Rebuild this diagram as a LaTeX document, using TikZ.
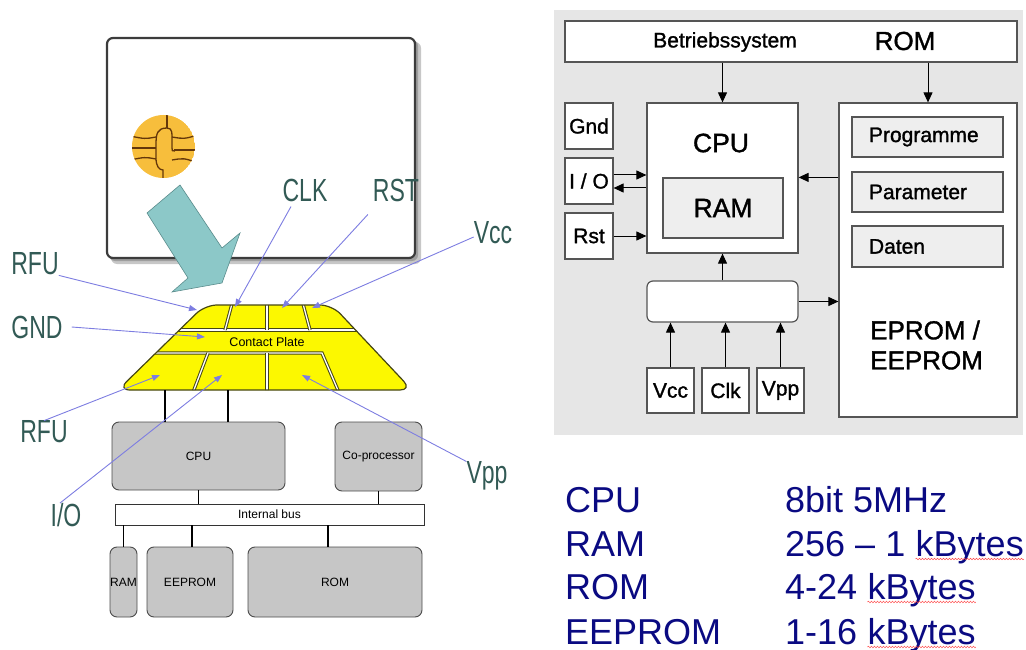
\documentclass[tikz,border=0pt]{standalone}
\usepackage{fontspec}
\setmainfont{Liberation Sans}
\newfontfamily\panelfont{Liberation Sans}[FakeBold=1.3]
\usetikzlibrary{arrows.meta,positioning,decorations.pathmorphing}
\definecolor{panel}{RGB}{230,230,230}
\definecolor{subgray}{RGB}{238,238,238}
\definecolor{boxedge}{RGB}{85,85,85}
\definecolor{unitgray}{RGB}{198,198,198}
\definecolor{plateyellow}{RGB}{252,248,0}
\definecolor{plateedge}{RGB}{70,70,20}
\definecolor{arrowteal}{RGB}{140,200,200}
\definecolor{tealedge}{RGB}{90,140,140}
\definecolor{chiporange}{RGB}{247,190,60}
\definecolor{chipbrown}{RGB}{100,55,10}
\definecolor{cardedge}{RGB}{60,60,60}
\definecolor{pinblue}{RGB}{125,125,225}
\definecolor{tagteal}{RGB}{50,90,85}
\definecolor{listblue}{RGB}{10,10,130}
\newcommand\sz[1]{\fontsize{#1}{#1}\selectfont}

\begin{document}
\begin{tikzpicture}[x=1pt,y=-1pt,
  box/.style={draw=boxedge,line width=1.2pt,fill=white,inner sep=0pt,font=\panelfont\sz{21}},
  subbox/.style={box,fill=subgray},
  arr/.style={-{Triangle[length=10pt,width=9pt]},line width=1pt},
  unit/.style={draw=black!70,fill=unitgray,rounded corners=7pt,line width=0.9pt,inner sep=0pt,font=\sz{12}},
  wire/.style={line width=1.4pt},
  gap/.style={draw=plateedge,line width=1pt,double=white,double distance=1.3pt},
  tag/.style={text=tagteal,font=\sz{32},xscale=0.72,inner sep=0pt},
  pin/.style={draw=pinblue,line width=0.9pt,-{Triangle[length=8pt,width=6pt]}},
  spec/.style={text=listblue,font=\sz{36},anchor=base west,inner sep=0pt},
  wave/.style={draw=red!70,line width=0.5pt,decorate,decoration={snake,amplitude=0.8pt,segment length=3pt}}]
  \useasboundingbox (0,0) rectangle (1026,650);

  % card with shadow
  \fill[black!22,rounded corners=6pt] (111,42) rectangle (421,264);
  \fill[black!38,rounded corners=6pt] (109,40) rectangle (418,261);
  \draw[cardedge,line width=2.2pt,fill=white,rounded corners=6pt] (107,38) rectangle (415,258);

  % chip on the card
  \begin{scope}
    \clip (163.5,146.5) circle (31.5pt);
    \fill[chiporange] (163.5,146.5) circle (31.5pt);
    \begin{scope}[chipbrown,line width=1.3pt]
      \draw (130,136) .. controls (145,139) .. (156,137);
      \draw (130,148) -- (156,148);
      \draw (130,160) .. controls (145,157) .. (156,159);
      \draw (172,137) .. controls (184,139) .. (198,135);
      \draw (174,150) -- (198,150);
      \draw (172,160) .. controls (184,158) .. (198,163);
      \draw (167,112) -- (167,128);
      \draw (167,128) .. controls (157,128) and (156,134) .. (156,145) -- (156,158)
        .. controls (156,166) and (159,170) .. (163,170) -- (163,182);
      \draw (167,128) .. controls (173,128) and (172,134) .. (172,142) -- (172,148)
        .. controls (172,151) .. (175,151);
    \end{scope}
  \end{scope}

  % big arrow onto the contacts
  \draw[tealedge,fill=arrowteal,line width=0.6pt]
    (180,185) -- (222,248) -- (240,233) -- (222,283) -- (172,292) -- (188,278) -- (147,213) -- cycle;

  % contact plate
  \coordinate (P1) at (205,305);
  \coordinate (P2) at (332,305);
  \coordinate (P3) at (412,390);
  \coordinate (P4) at (118,390);
  \fill[plateyellow,rounded corners=12pt] (P1) -- (P2) -- (P3) -- (P4) -- cycle;
  \begin{scope}[rounded corners=12pt]
    \clip (P1) -- (P2) -- (P3) -- (P4) -- cycle;
    \begin{scope}[sharp corners]
      \draw[gap] (100,330) -- (430,330);
      \draw[gap] (100,353) -- (322,353) -- (340,395);
      \draw[gap] (233,300) -- (225,330);
      \draw[gap] (267,300) -- (267,330);
      \draw[gap] (302,300) -- (310,330);
      \draw[gap] (208,353) -- (192,395);
      \draw[gap] (267,353) -- (267,395);
    \end{scope}
  \end{scope}
  \draw[plateedge,line width=1.2pt,rounded corners=12pt] (P1) -- (P2) -- (P3) -- (P4) -- cycle;
  \node[font=\sz{12.5},inner sep=0pt] (plate) at (267,342) {Contact Plate};

  % chip blocks
  \node[unit,minimum width=173pt,minimum height=68pt] (cpu) at (198.5,456) {CPU};
  \node[unit,minimum width=87pt,minimum height=69pt] (copro) at (378.5,456.5) {Co-processor};
  \node[draw=black!80,fill=white,line width=0.9pt,minimum width=309pt,minimum height=21pt,
    inner sep=0pt,font=\sz{12}] (bus) at (269.5,514.5) {Internal bus};
  \node[unit,minimum width=27pt,minimum height=70pt] (ram) at (123.5,582) {RAM};
  \node[unit,minimum width=86pt,minimum height=70pt] (eeprom) at (190,582) {EEPROM};
  \node[unit,minimum width=174pt,minimum height=70pt] (rom) at (335,582) {ROM};

  \coordinate (W1) at (165,390);
  \coordinate (W2) at (228,390);
  \draw[wire] (W1) -- (W1 |- cpu.north);
  \draw[wire] (W2) -- (W2 |- cpu.north);
  \draw[wire] (cpu.south) -- (cpu.south |- bus.north);
  \draw[wire] (copro.south) -- (copro.south |- bus.north);
  \draw[wire] (ram.north) -- (ram.north |- bus.south);
  \draw[wire] ([xshift=2pt]eeprom.north) -- ([xshift=2pt]eeprom.north |- bus.south);
  \draw[wire] ([xshift=-7pt]rom.north) -- ([xshift=-7pt]rom.north |- bus.south);

  % contact names
  \node[tag] (rfuA) at (35,264) {RFU};
  \node[tag] (gnd) at (37,327) {GND};
  \node[tag] (rfuB) at (44,432) {RFU};
  \node[tag] (io) at (66,515) {I/O};
  \node[tag] (clk) at (305,190) {CLK};
  \node[tag] (rst) at (396,190) {RST};
  \node[tag] (vcc) at (493,233) {Vcc};
  \node[tag] (vpp) at (487,476) {Vpp};

  \coordinate (pRFUa) at (197,310);
  \coordinate (pCLK) at (235,307);
  \coordinate (pRST) at (282,308);
  \coordinate (pVCC) at (312,308);
  \coordinate (pGND) at (205,337);
  \coordinate (pRFUb) at (160,375);
  \coordinate (pIO) at (222,375);
  \coordinate (pVPP) at (302,375);
  \draw[pin] (rfuA.south east) -- (pRFUa);
  \draw[pin] ([shift={(-14,5)}]clk.south) -- (pCLK);
  \draw[pin] ([shift={(-5,13)}]rst.south west) -- (pRST);
  \draw[pin] ([shift={(0,4)}]vcc.west) -- (pVCC);
  \draw[pin] ([xshift=9pt]gnd.east) -- (pGND);
  \draw[pin] (rfuB.north) -- (pRFUb);
  \draw[pin] ([xshift=-6pt]io.north) -- (pIO);
  \draw[pin] (vpp.north west) -- (pVPP);

  % block diagram
  \fill[panel] (554,10) rectangle (1023,435);
  \node[box,minimum width=452pt,minimum height=41pt] (osbox) at (791,41.5) {};
  \node[font=\panelfont\sz{21}] (bs) at (725,42) {Betriebssystem};
  \node[font=\panelfont\sz{26}] (osrom) at (905,41) {ROM};

  \node[box,minimum width=151pt,minimum height=150pt] (cpubox) at (722.5,178) {};
  \node[font=\panelfont\sz{26.5}] (cputxt) at (721,143) {CPU};
  \node[subbox,minimum width=120pt,minimum height=60pt,font=\panelfont\sz{26.5}] (rambox) at (723,208) {RAM};

  \node[box,minimum width=48pt,minimum height=46pt] (gndbox) at (589,126) {Gnd};
  \node[box,minimum width=48pt,minimum height=46pt] (iobox) at (589,181) {I / O};
  \node[box,minimum width=48pt,minimum height=46pt] (rstbox) at (589,236) {Rst};

  \node[box,minimum width=178pt,minimum height=314pt] (epbox) at (928,260) {};
  \node[subbox,minimum width=151pt,minimum height=40pt,text width=117pt,align=left] (progbox) at (927.5,137) {Programme};
  \node[subbox,minimum width=151pt,minimum height=40pt,text width=117pt,align=left] (parbox) at (927.5,192) {Parameter};
  \node[subbox,minimum width=151pt,minimum height=41pt,text width=117pt,align=left] (datbox) at (927.5,246.5) {Daten};
  \node[font=\panelfont\fontsize{26}{30}\selectfont,align=left,anchor=west,inner sep=0pt] (eptxt) at (870,345) {EPROM /\\EEPROM};

  \node[box,rounded corners=6pt,minimum width=151pt,minimum height=41pt] (ctlbox) at (722.5,301.5) {};
  \node[box,minimum width=47pt,minimum height=45pt] (vccbox) at (670.5,390.5) {Vcc};
  \node[box,minimum width=47pt,minimum height=45pt] (clkbox) at (725.5,390.5) {Clk};
  \node[box,minimum width=47pt,minimum height=45pt] (vppbox) at (780.5,390.5) {Vpp};

  \draw[arr] (osbox.south -| cpubox.north) -- (cpubox.north);
  \draw[arr] (osbox.south -| epbox.north) -- (epbox.north);
  \draw[arr] ([yshift=6pt]iobox.east) -- ([yshift=6pt]iobox.east -| cpubox.west);
  \draw[arr] ([yshift=-7pt]iobox.east -| cpubox.west) -- ([yshift=-7pt]iobox.east);
  \draw[arr] (rstbox.east) -- (rstbox.east -| cpubox.west);
  \draw[arr] (epbox.west |- rambox.north) -- (cpubox.east |- rambox.north);
  \draw[arr] (ctlbox.north) -- (cpubox.south);
  \draw[arr] (ctlbox.east) -- (ctlbox.east -| epbox.west);
  \foreach \b in {vccbox,clkbox,vppbox}
    \draw[arr] (\b.north) -- (\b.north |- ctlbox.south);

  % key figures
  \node[spec] (sCPU) at (565,512) {CPU};
  \node[spec] (sRAM) at (565,556) {RAM};
  \node[spec] (sROM) at (565,599) {ROM};
  \node[spec] (sEEP) at (565,644) {EEPROM};
  \node[spec] (vCPU) at (785,512) {8bit 5MHz};
  \node[spec] (vRAM) at (785,556) {256 – 1};
  \node[spec] (vROM) at (785,599) {4-24};
  \node[spec] (vEEP) at (785,644) {1-16};
  \foreach \v/\k in {vRAM/kRAM,vROM/kROM,vEEP/kEEP}{
    \node[spec] (\k) at ([xshift=10pt]\v.base east) {kBytes};
    \draw[wave] ([yshift=-3pt]\k.base west) -- ([yshift=-3pt]\k.base east);
  }
\end{tikzpicture}
\end{document}
